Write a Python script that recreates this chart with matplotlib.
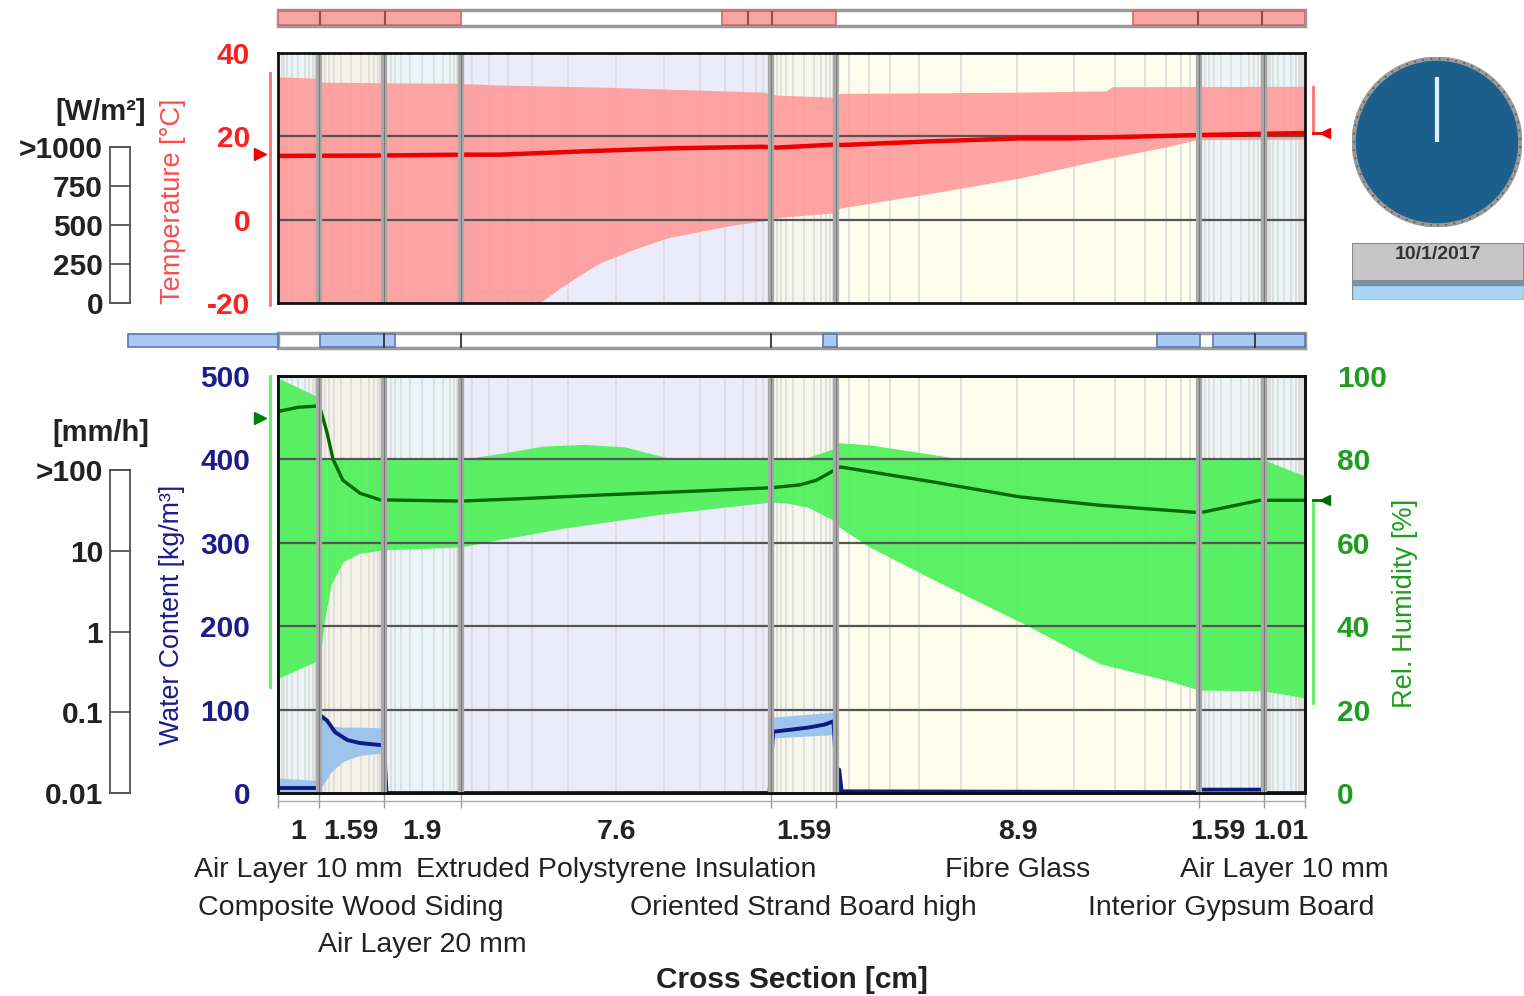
import numpy as np
import matplotlib
matplotlib.use("Agg")
import matplotlib.pyplot as plt
import matplotlib.transforms as mtransforms
from matplotlib.patches import Circle, Rectangle

plt.rcParams['font.family'] = ['Liberation Sans', 'DejaVu Sans']
plt.rcParams['axes.unicode_minus'] = False

W, H = 1524, 996

# ---- layers of the wall (outside -> inside) ----
layer_names = ["Air Layer 10 mm", "Composite Wood Siding", "Air Layer 20 mm",
               "Extruded Polystyrene Insulation", "Oriented Strand Board high",
               "Fibre Glass", "Interior Gypsum Board", "Air Layer 10 mm"]
layer_thick = [1, 1.59, 1.9, 7.6, 1.59, 8.9, 1.59, 1.01]
layer_thick_labels = ["1", "1.59", "1.9", "7.6", "1.59", "8.9", "1.59", "1.01"]
layer_row = [0, 1, 2, 0, 1, 0, 1, 0]
layer_colors = ["#eaf4f7", "#f4f1e6", "#e9f4f7", "#ebebfa",
                "#f7f6ea", "#fdfdee", "#eff4f6", "#e9f4f7"]
mesh_frac = [0.035, 0.09, 0.15, 0.23, 0.345, 0.5, 0.655, 0.77, 0.85, 0.91, 0.95, 0.975]

# ---- temperature [°C] ----
temp_max_x = [0, 0.98, 1.03, 4.49, 5.44, 8.0, 11.9, 12.23, 13.61, 13.79, 18.19, 20.3, 20.45, 25.18]
temp_max = [34.3, 33.9, 33.0, 32.7, 32.3, 31.8, 30.6, 29.9, 29.4, 30.3, 30.6, 30.9, 31.9, 32.0]
temp_min_x = [0, 2.59, 4.49, 5.4, 5.9, 6.42, 6.9, 7.4, 7.89, 8.7, 9.54, 10.3, 11.15, 11.89,
              12.23, 13.61, 13.79, 16.06, 18.19, 20.15, 21.79, 22.53, 25.18]
temp_min = [-60, -45, -34, -28, -24, -20, -16.5, -13.3, -10.4, -7.2, -4.4, -2.9, -1.3, -0.3,
            0.5, 1.6, 2.8, 6.4, 10.0, 14.3, 17.5, 19.2, 19.3]
temp_mean_x = [0, 2.59, 4.49, 5.44, 7.5, 9.54, 11.89, 12.23, 13.61, 13.79, 16.0, 18.19, 19.34, 22.5, 25.18]
temp_mean = [15.3, 15.4, 15.6, 15.6, 16.4, 17.1, 17.5, 17.3, 18.0, 17.9, 18.8, 19.5, 19.5, 20.3, 20.8]

# ---- relative humidity [%] ----
rh_max_x = [0, 0.98, 1.02, 4.49, 5.5, 6.5, 7.5, 8.5, 9.5, 10.0, 12.09, 13.0, 13.6, 13.75, 14.5,
            16.5, 17.0, 24.17, 24.4, 25.18]
rh_max = [99.5, 95, 80, 80, 81.5, 83.2, 83.6, 83.0, 80.5, 80, 80, 80.5, 82.5, 84, 83.5,
          80.5, 80, 80, 79, 76]
rh_min_x = [0, 0.98, 1.02, 1.15, 1.3, 1.6, 2.0, 2.59, 4.49, 5.4, 7.0, 9.5, 11.2, 12.09, 12.5,
            13.0, 13.6, 13.75, 14.5, 16.0, 18.2, 20.15, 21.8, 22.58, 24.17, 25.18]
rh_min = [27.5, 31.8, 32, 42, 50, 55.5, 57.5, 58.3, 59, 60.7, 63.5, 67, 68.8, 69.8, 69.5,
          68.5, 65.5, 63.8, 59, 51.5, 41, 31, 27, 24.7, 24.5, 22.8]
rh_mean_x = [0, 0.5, 0.98, 1.03, 1.2, 1.35, 1.59, 2.01, 2.5, 4.49, 6.0, 8.0, 10.0, 12.09, 12.8,
             13.2, 13.6, 13.78, 16.06, 18.19, 20.15, 22.5, 22.7, 24.07, 25.18]
rh_mean = [91.5, 92.5, 92.8, 92.4, 86.5, 80.0, 75.0, 71.9, 70.3, 70.0, 70.6, 71.5, 72.3, 73.2,
           73.9, 75.0, 77.2, 78.2, 74.6, 71.0, 69.0, 67.3, 67.4, 70.2, 70.2]

# ---- water content [kg/m³] ----
wc_x = [0, 0.98, 1.04, 1.2, 1.4, 1.7, 2.0, 2.5, 2.6, 2.66, 12.05, 12.14, 12.5, 13.0, 13.4, 13.62,
        13.72, 13.76, 13.82, 22.55, 22.62, 24.14, 24.2, 25.18]
wc_mean = [6, 6, 93, 87, 73, 63.5, 60, 57.5, 56.5, 0, 0, 73.5, 75.5, 78.5, 82, 86,
           0, 28, 2, 1, 4, 4, 0, 0]
wc_band_x = [0, 0.98, 1.04, 1.3, 1.6, 2.0, 2.57, 2.62, 12.08, 12.13, 13.64, 13.7, 25.18]
wc_band_hi = [18, 15, 95, 80, 79, 79, 78, 0, 0, 91, 97, 0, 0]
wc_band_lo = [0, 0, 5, 25, 38, 45, 48, 0, 0, 66, 70, 0, 0]

# ---- boundary climate markers ----
ext_temp_range, ext_temp_mean = (-20.5, 35.2), 15.8
int_temp_range, int_temp_mean = (20.8, 31.9), 20.8
ext_rh_range, ext_rh_mean = (25.4, 100), 90
int_rh_range, int_rh_mean = (21.6, 70.3), 70.3

# ---- indicator bars ----
heat_seg = [(0, 4.49), (10.88, 13.68), (20.96, 25.18)]
heat_div = [1.03, 2.62, 11.52, 12.11, 22.55, 24.12]
rain_seg = [(-3.68, 0), (1.03, 2.87), (13.36, 13.70), (21.55, 22.60), (22.92, 25.18)]
rain_div = [2.59, 4.49, 12.09, 23.95]

date_text = "10/1/2017"

edges = np.concatenate([[0], np.cumsum(layer_thick)])
total = edges[-1]
centers = (edges[:-1] + edges[1:]) / 2
thick_shift_px = [0, 0, 0, 0, 0, 0, -14, -4]   # nudges so the narrow labels do not collide

RED, NAVY, GREEN = "#ff1f1f", "#1c1c8a", "#1e9e1e"
TXT = "#222222"


def px(x0, y0, w, h):
    return [x0 / W, 1 - (y0 + h) / H, w / W, h / H]


def draw_layers(ax):
    for i in range(len(layer_thick)):
        ax.axvspan(edges[i], edges[i + 1], color=layer_colors[i], lw=0, zorder=0)
        for f in mesh_frac:
            ax.axvline(edges[i] + f * layer_thick[i], color="#dcdcdc", lw=1.2, zorder=1)


def draw_bounds(ax):
    for e in edges[1:-1]:
        ax.axvline(e, color="#a9a9a9", lw=4.5, zorder=6)
        ax.axvline(e, color="#7a7a7a", lw=0.8, zorder=6)


def frame(ax):
    for s in ax.spines.values():
        s.set_linewidth(2)
        s.set_color("#111111")
        s.set_zorder(10)


fig = plt.figure(figsize=(W / 100, H / 100), dpi=100)

# ---------------- top panel: temperature ----------------
ax_t = fig.add_axes(px(278, 53, 1027, 250))
draw_layers(ax_t)
xx = np.union1d(temp_max_x, temp_min_x)
ax_t.fill_between(xx, np.interp(xx, temp_min_x, temp_min), np.interp(xx, temp_max_x, temp_max),
                  color="#ff9a9a", alpha=0.9, lw=0, zorder=2)
for g in [0, 20]:
    ax_t.axhline(g, color="#555555", lw=1.6, zorder=4)
ax_t.plot(temp_mean_x, temp_mean, color="#ee0000", lw=3.2, zorder=5)
draw_bounds(ax_t)
ax_t.set_xlim(0, total)
ax_t.set_ylim(-20, 40)
ax_t.set_xticks([])
ax_t.set_yticks([-20, 0, 20, 40])
ax_t.tick_params(axis="y", length=0, pad=20, labelsize=21.5, labelcolor=RED)
for lab in ax_t.get_yticklabels():
    lab.set_fontweight("bold")
frame(ax_t)
ax_t.plot([-0.2, -0.2], ext_temp_range, color="#ff7070", lw=2, clip_on=False)
ax_t.plot([-0.45], [ext_temp_mean], marker=">", color="#ee0000", ms=9, clip_on=False)
ax_t.plot([total + 0.2, total + 0.2], int_temp_range, color="#ff7070", lw=2, clip_on=False)
ax_t.plot([total + 0.2, total + 0.45], [int_temp_mean] * 2, color="#ee0000", lw=2, clip_on=False)
ax_t.plot([total + 0.5], [int_temp_mean], marker="<", color="#ee0000", ms=7, clip_on=False)

# ---------------- bottom panel: water content / RH ----------------
ax_b = fig.add_axes(px(278, 376, 1027, 417))
ax_r = ax_b.twinx()
draw_layers(ax_b)
ax_b.fill_between(wc_band_x, wc_band_lo, wc_band_hi, color="#9ec4ee", lw=0, zorder=2)
ax_b.plot(wc_x, wc_mean, color="#0c1c82", lw=2.8, zorder=3)

xr = np.union1d(rh_max_x, rh_min_x)
ax_r.fill_between(xr, np.interp(xr, rh_min_x, rh_min), np.interp(xr, rh_max_x, rh_max),
                  color="#4ff05b", alpha=0.93, lw=0, zorder=2)
for g in [20, 40, 60, 80]:
    ax_r.axhline(g, color="#555555", lw=1.6, zorder=4)
ax_r.plot(rh_mean_x, rh_mean, color="#006a00", lw=2.4, zorder=5)
draw_bounds(ax_r)

ax_b.set_xlim(0, total)
ax_r.set_xlim(0, total)
ax_b.set_ylim(0, 500)
ax_r.set_ylim(0, 100)
ax_b.set_yticks(range(0, 501, 100))
ax_r.set_yticks(range(0, 101, 20))
ax_b.tick_params(axis="y", length=0, pad=20, labelsize=21.5, labelcolor=NAVY)
ax_r.tick_params(axis="y", length=0, pad=23, labelsize=21.5, labelcolor=GREEN)
for lab in ax_b.get_yticklabels() + ax_r.get_yticklabels():
    lab.set_fontweight("bold")
ax_b.set_xticks(edges)
ax_b.set_xticklabels([])
ax_b.tick_params(axis="x", length=11, width=1, color="#999999", direction="out")
frame(ax_b)
frame(ax_r)
ax_b.plot([0, total], [-0.018, -0.018], color="#aaaaaa", lw=1,
          transform=ax_b.get_xaxis_transform(), clip_on=False)

ax_r.plot([-0.2, -0.2], ext_rh_range, color="#60f060", lw=2, clip_on=False)
ax_r.plot([-0.45], [ext_rh_mean], marker=">", color="#008000", ms=9, clip_on=False)
ax_r.plot([total + 0.2, total + 0.2], int_rh_range, color="#60f060", lw=2, clip_on=False)
ax_r.plot([total + 0.2, total + 0.45], [int_rh_mean] * 2, color="#006a00", lw=2, clip_on=False)
ax_r.plot([total + 0.5], [int_rh_mean], marker="<", color="#006a00", ms=7, clip_on=False)

# axis titles
fig.text(173 / W, 1 - 201 / H, "Temperature [°C]", rotation=90, ha="center", va="center",
         fontsize=19.5, color="#ff4a4a")
fig.text(172 / W, 1 - 615 / H, "Water Content [kg/m³]", rotation=90, ha="center", va="center",
         fontsize=19.3, color=NAVY)
fig.text(1405 / W, 1 - 603 / H, "Rel. Humidity [%]", rotation=90, ha="center", va="center",
         fontsize=19.6, color=GREEN)

# thickness and material labels under the section
tr = mtransforms.blended_transform_factory(ax_b.transData, fig.transFigure)
row_y = [870, 908, 945]
for i in range(len(layer_thick)):
    off = mtransforms.offset_copy(tr, fig=fig, x=thick_shift_px[i] * 0.72, units="points")
    fig.text(centers[i], 1 - 832 / H, layer_thick_labels[i], transform=off, ha="center",
             va="center", fontsize=20.5, fontweight="bold", color=TXT)
    fig.text(centers[i], 1 - row_y[layer_row[i]] / H, layer_names[i], transform=tr,
             ha="center", va="center", fontsize=20.5, color=TXT)
fig.text(792 / W, 1 - 980 / H, "Cross Section [cm]", ha="center", va="center",
         fontsize=21.5, fontweight="bold", color=TXT)

# ---------------- indicator bars ----------------
ax_hb = fig.add_axes(px(278, 10, 1027, 16))
ax_hb.set_xlim(0, total)
ax_hb.set_ylim(0, 1)
ax_hb.axis("off")
ax_hb.add_patch(Rectangle((0, 0), total, 1, fc="white", ec="#9a9a9a", lw=2.5, clip_on=False))
for s, e in heat_seg:
    ax_hb.add_patch(Rectangle((s, 0.08), e - s, 0.84, fc="#f6a4a4", ec="#d06868", lw=1.2))
ax_hb.vlines(heat_div, 0.08, 0.92, color="#a04848", lw=1.5)

ax_rb = fig.add_axes(px(278, 333, 1027, 15))
ax_rb.set_xlim(0, total)
ax_rb.set_ylim(0, 1)
ax_rb.axis("off")
ax_rb.add_patch(Rectangle((0, 0), total, 1, fc="white", ec="#9a9a9a", lw=2.5, clip_on=False))
for s, e in rain_seg:
    ax_rb.add_patch(Rectangle((s, 0.08), e - s, 0.84, fc="#a9c9f2", ec="#5a78b0", lw=1.2,
                              clip_on=False))
ax_rb.vlines(rain_div, 0.0, 1.0, color="#333333", lw=1.3)

# ---------------- legend scales on the left ----------------
ax_w = fig.add_axes(px(110, 147, 20, 156))
ax_w.set_xlim(0, 1)
ax_w.set_ylim(0, 1000)
ax_w.set_xticks([])
ax_w.set_yticks([0, 250, 500, 750, 1000])
ax_w.set_yticklabels(["0", "250", "500", "750", ">1000"])
ax_mm = fig.add_axes(px(110, 470, 20, 323))
ax_mm.set_yscale("log")
ax_mm.set_ylim(0.01, 100)
ax_mm.set_xticks([])
ax_mm.set_yticks([0.01, 0.1, 1, 10, 100])
ax_mm.set_yticklabels(["0.01", "0.1", "1", "10", ">100"])
ax_mm.minorticks_off()
for a in (ax_w, ax_mm):
    a.tick_params(axis="y", direction="in", length=15, width=1.3, color="#555555",
                  labelsize=21.5, pad=5, labelcolor=TXT)
    for lab in a.get_yticklabels():
        lab.set_fontweight("bold")
    for s in a.spines.values():
        s.set_color("#555555")
        s.set_linewidth(1.3)
fig.text(101 / W, 1 - 112 / H, "[W/m²]", ha="center", va="center", fontsize=21,
         fontweight="bold", color=TXT)
fig.text(101 / W, 1 - 433 / H, "[mm/h]", ha="center", va="center", fontsize=21,
         fontweight="bold", color=TXT)

# ---------------- clock and date ----------------
ax_c = fig.add_axes(px(1352, 57, 170, 170))
ax_c.set_xlim(-1.02, 1.02)
ax_c.set_ylim(-1.02, 1.02)
ax_c.set_aspect("equal")
ax_c.axis("off")
ax_c.add_patch(Circle((0, 0), 1, fc="#1c5f8d", ec="#9a9a9a", lw=3))
ax_c.add_patch(Circle((0, 0), 1, fc="none", ec="#555555", lw=1.2, ls=(0, (1, 4))))
ax_c.plot([0, 0], [0, 0.78], color="#dceeff", lw=3, solid_capstyle="butt")

ax_d = fig.add_axes(px(1352, 243, 172, 57))
ax_d.set_xlim(0, 1)
ax_d.set_ylim(0, 1)
ax_d.axis("off")
ax_d.add_patch(Rectangle((0, 0.33), 1, 0.67, fc="#c6c6c6", ec="#8a8a8a", lw=1.5))
ax_d.add_patch(Rectangle((0, 0.26), 1, 0.08, fc="#6f96b6", lw=0))
ax_d.add_patch(Rectangle((0, 0.0), 1, 0.26, fc="#a9d6f5", ec="#8a8a8a", lw=1))
ax_d.text(0.5, 0.8, date_text, ha="center", va="center", fontsize=14, fontweight="bold",
          color="#333333")

fig.savefig("out.png", dpi=100)
